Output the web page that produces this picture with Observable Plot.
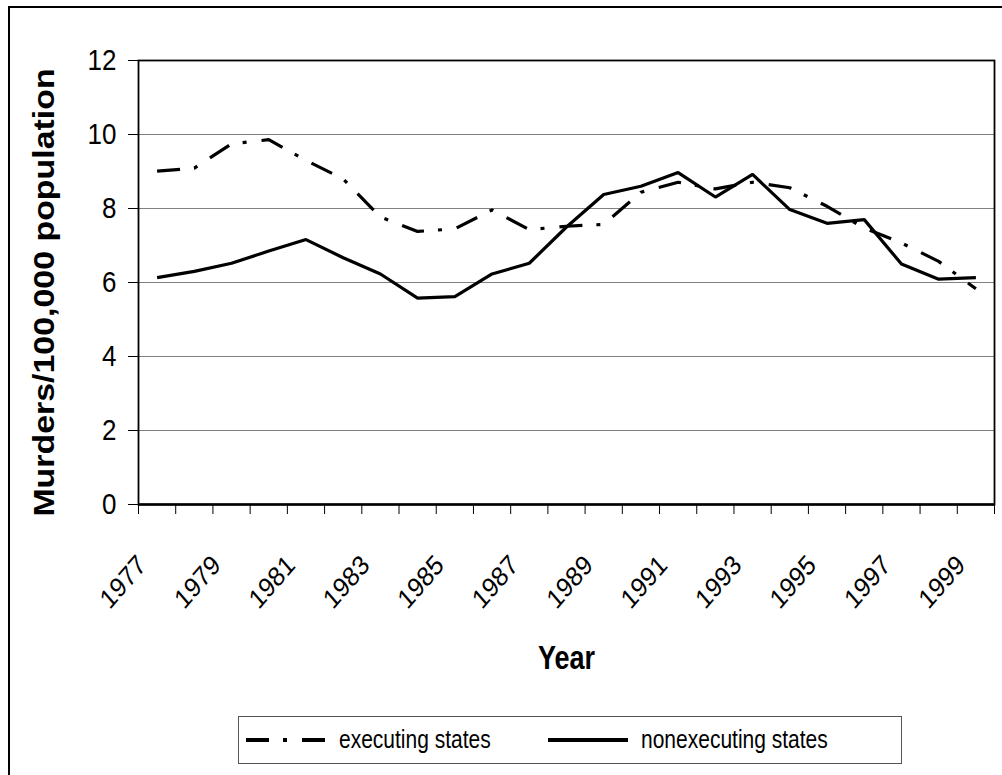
<!DOCTYPE html>
<html><head><meta charset="utf-8">
<script src="https://cdn.jsdelivr.net/npm/d3@7"></script>
<script src="https://cdn.jsdelivr.net/npm/@observablehq/plot@0.6"></script>
<style>
body{margin:0;background:#fff;}
#wrap{position:relative;width:1002px;height:775px;overflow:hidden;background:#fff;font-family:"Liberation Sans",Arial,sans-serif;}
#border{position:absolute;left:8px;top:6px;width:1000px;height:800px;border-top:2px solid #000;border-left:2px solid #000;}
#chart{position:absolute;left:0;top:0;}
#legend{position:absolute;left:238px;top:716px;width:664px;height:48px;border:1px solid #555;box-sizing:border-box;background:#fff;}
#legend .item{position:absolute;top:0;height:46px;display:flex;align-items:center;font-size:21px;color:#000;white-space:nowrap;}
#legend .item span{display:inline-block;transform:scaleY(1.2);transform-origin:50% 55%;}
#legend svg{display:block;}
</style>
</head><body>
<div id="wrap">
  <div id="border"></div>
  <div id="chart"></div>
  <div id="legend"></div>
</div>
<script>
const years = [1977,1978,1979,1980,1981,1982,1983,1984,1985,1986,1987,1988,1989,1990,1991,1992,1993,1994,1995,1996,1997,1998,1999];
const executing = [9.01,9.09,9.75,9.86,9.30,8.80,7.77,7.38,7.45,7.96,7.43,7.52,7.57,8.44,8.71,8.53,8.71,8.56,8.06,7.47,7.07,6.57,5.83];
const nonexecuting = [6.13,6.30,6.52,6.85,7.16,6.67,6.23,5.58,5.62,6.23,6.52,7.50,8.38,8.60,8.97,8.31,8.92,7.97,7.60,7.70,6.50,6.09,6.13];
const seriesNames = ["executing states","nonexecuting states"];
const yTicks = [0,2,4,6,8,10,12];
const xTickLabels = [1977,1979,1981,1983,1985,1987,1989,1991,1993,1995,1997,1999];
const yTitle = "Murders/100,000 population";
const xTitle = "Year";
const dashPattern = "23,14,4,15";

const boundaries = years.map(y => y - 0.5).concat([years[years.length-1] + 0.5]);
const execData = years.map((year,i) => ({year, value: executing[i], series: seriesNames[0]}));
const nonData = years.map((year,i) => ({year, value: nonexecuting[i], series: seriesNames[1]}));

const FONT = '"Liberation Sans",Arial,sans-serif';

const chart = Plot.plot({
  width: 1002, height: 700,
  marginLeft: 138, marginRight: 8, marginTop: 60, marginBottom: 196,
  style: {fontFamily: FONT, fontSize: "26px", color: "#000", background: "transparent", overflow: "visible"},
  x: {domain: [boundaries[0], boundaries[boundaries.length-1]]},
  y: {domain: [0, 12]},
  marks: [
    Plot.gridY(yTicks.slice(1), {stroke: "#808080", strokeOpacity: 1, strokeWidth: 1}),
    Plot.frame({stroke: "#000", strokeWidth: 1.8}),
    Plot.axisY(yTicks, {tickSize: 10, tickPadding: 12, tickFormat: d => String(d), label: null, fontSize: 26}),
    Plot.axisX(boundaries, {tickSize: 10, tickFormat: () => "", label: null}),
    Plot.text(xTickLabels, {x: d => d, text: d => String(d), frameAnchor: "bottom", rotate: -45,
      textAnchor: "end", lineAnchor: "middle", dx: -15, dy: 56, fontSize: 24}),
    Plot.text([xTitle], {frameAnchor: "bottom", text: d => d, textAnchor: "middle", lineAnchor: "middle",
      dy: 154, fontSize: 27, fontWeight: "bold"}),
    Plot.text([yTitle], {frameAnchor: "left", text: d => d, rotate: -90, textAnchor: "middle", lineAnchor: "middle",
      dx: -94, dy: 10, fontSize: 30, fontWeight: "bold"}),
    Plot.ruleY([0], {stroke: "#000", strokeWidth: 2.5}),
    Plot.line(execData, {x: "year", y: "value", stroke: "#000", strokeWidth: 3.2, strokeDasharray: dashPattern, strokeLinecap: "butt", strokeLinejoin: "miter"}),
    Plot.line(nonData, {x: "year", y: "value", stroke: "#000", strokeWidth: 3.2, strokeLinecap: "butt", strokeLinejoin: "miter"})
  ]
});
document.getElementById("chart").appendChild(chart);

// mimic the vertically stretched lettering of the original image:
// prepend a screen-space vertical scale about each text's own anchor point
function stretch(el, k) {
  const ctm = el.getCTM();            // local -> svg coords (via parent groups)
  const pctm = el.parentNode.getCTM ? el.parentNode.getCTM() : null;
  const t = el.getAttribute("transform") || "";
  const m = t.match(/^\s*translate\(\s*([-\d.e]+)[ ,]+([-\d.e]+)\s*\)(.*)$/);
  if (m) {
    el.setAttribute("transform", `translate(${m[1]},${m[2]}) scale(1,${k})${m[3]}`);
  } else {
    el.setAttribute("transform", `scale(1,${k}) ${t}`);
  }
}
const yTickSet = new Set(yTicks.map(String));
const xTickSet = new Set(xTickLabels.map(String));
d3.select(chart).selectAll("text").each(function() {
  const s = this.textContent;
  if (yTickSet.has(s)) stretch(this, 1.17);
  else if (xTickSet.has(s)) stretch(this, 1.15);
  else if (s === xTitle) stretch(this, 1.2);
  else if (s === yTitle) stretch(this, 1.13);
});

// legend
const legend = d3.select("#legend");
const items = [
  {name: seriesNames[0], dash: dashPattern, left: 7},
  {name: seriesNames[1], dash: null, left: 309}
];
items.forEach(it => {
  const div = legend.append("div").attr("class", "item").style("left", it.left + "px");
  const s = div.append("svg").attr("width", 93).attr("height", 10);
  s.append("line").attr("x1", 0).attr("x2", 80).attr("y1", 5).attr("y2", 5)
    .attr("stroke", "#000").attr("stroke-width", 4).attr("stroke-dasharray", it.dash);
  div.append("span").text(it.name);
});
</script>
</body></html>
